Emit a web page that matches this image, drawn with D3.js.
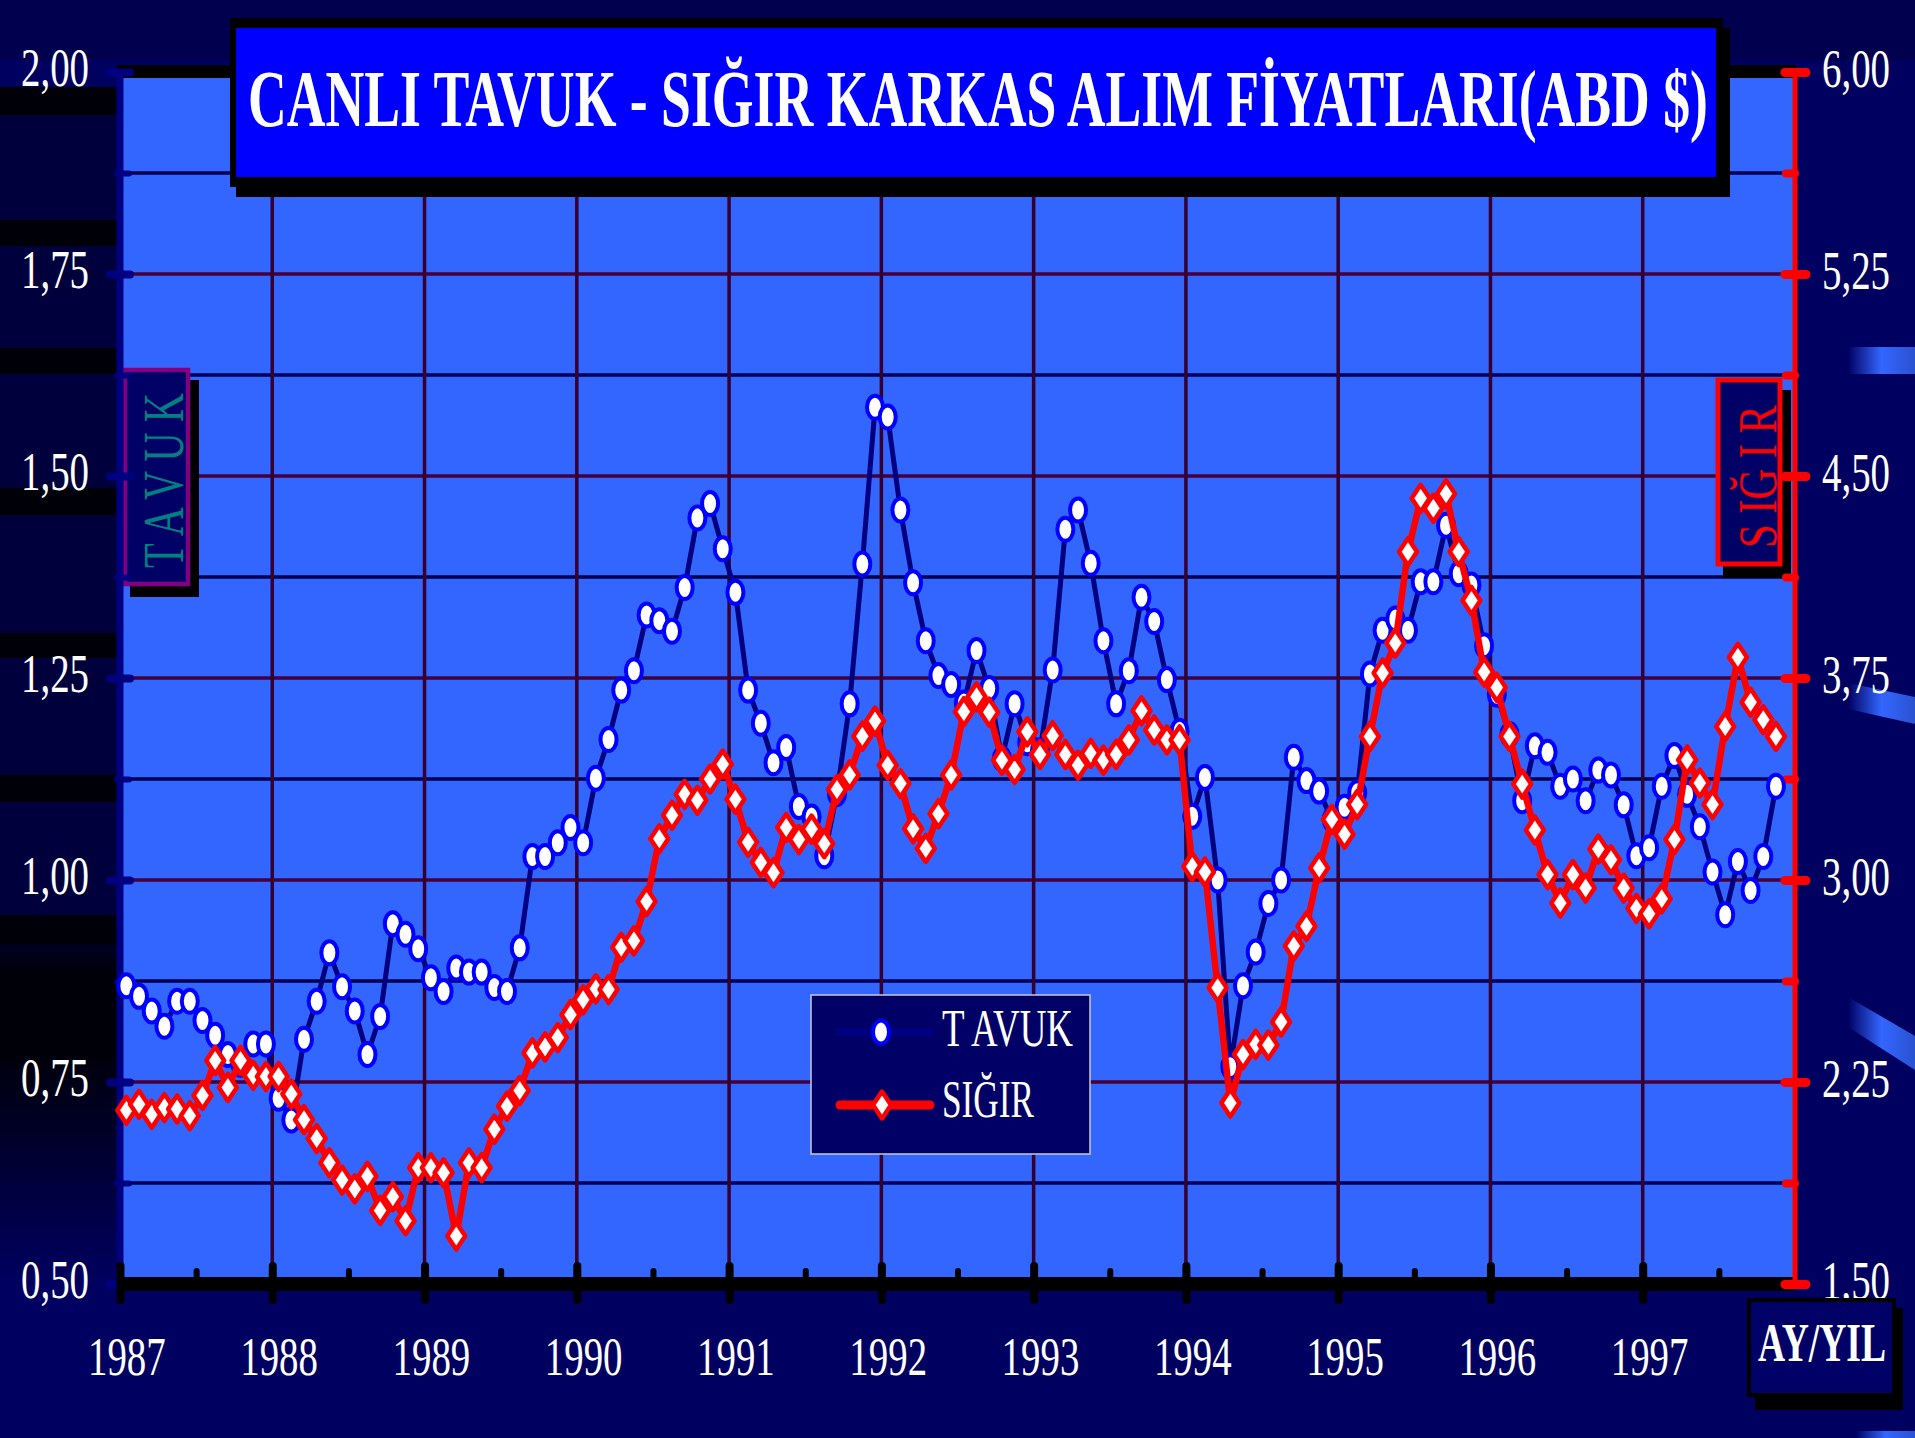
<!DOCTYPE html>
<html><head><meta charset="utf-8">
<script src="https://cdn.jsdelivr.net/npm/d3@7"></script>
<style>html,body{margin:0;padding:0;background:#000060;}svg{display:block;}</style>
</head><body>
<svg id="c" width="1915" height="1438"></svg>
<script>
// ---------- data ----------
const years = ["1987","1988","1989","1990","1991","1992","1993","1994","1995","1996","1997"];
const leftTicks = [0.50,0.75,1.00,1.25,1.50,1.75,2.00];
const rightTicks = [1.50,2.25,3.00,3.75,4.50,5.25,6.00];
const seriesNames = ["T AVUK","SIĞIR"];
const titleText = "CANLI TAVUK - SIĞIR KARKAS ALIM FİYATLARI(ABD $)";
// TAVUK (left axis), monthly Jan 1987 .. Nov 1997
const tavuk = [
0.869,0.856,0.838,0.819,0.850,0.850,0.826,0.808,0.784,0.772,0.797,0.797,
0.730,0.703,0.803,0.850,0.910,0.868,0.838,0.784,0.831,0.946,0.933,0.915,
0.879,0.862,0.891,0.886,0.886,0.867,0.862,0.916,1.029,1.029,1.046,1.065,
1.046,1.126,1.174,1.235,1.259,1.328,1.321,1.308,1.362,1.448,1.466,1.410,
1.356,1.235,1.194,1.145,1.164,1.091,1.078,1.030,1.107,1.218,1.391,1.585,
1.573,1.458,1.368,1.296,1.253,1.242,1.219,1.284,1.237,1.150,1.218,1.170,
1.160,1.260,1.434,1.458,1.392,1.296,1.218,1.259,1.350,1.320,1.248,1.184,
1.079,1.127,1.000,0.769,0.869,0.911,0.971,1.000,1.152,1.123,1.110,1.075,
1.090,1.108,1.255,1.309,1.323,1.309,1.369,1.369,1.439,1.379,1.365,1.290,
1.230,1.180,1.098,1.166,1.158,1.116,1.125,1.098,1.136,1.130,1.093,1.030,
1.040,1.116,1.154,1.106,1.066,1.010,0.957,1.023,0.987,1.029,1.116];
// SIĞIR (right axis)
const sigir = [
2.145,2.167,2.130,2.155,2.150,2.125,2.200,2.330,2.230,2.330,2.275,2.270,
2.270,2.205,2.110,2.040,1.950,1.886,1.853,1.900,1.773,1.824,1.735,1.932,
1.932,1.913,1.678,1.950,1.932,2.075,2.160,2.218,2.358,2.380,2.415,2.500,
2.555,2.596,2.593,2.750,2.774,2.920,3.153,3.240,3.318,3.296,3.375,3.430,
3.300,3.140,3.065,3.027,3.195,3.150,3.189,3.135,3.336,3.390,3.534,3.590,
3.426,3.358,3.190,3.117,3.246,3.390,3.625,3.680,3.623,3.445,3.410,3.550,
3.466,3.536,3.466,3.426,3.470,3.445,3.466,3.520,3.628,3.557,3.520,3.520,
3.050,3.030,2.600,2.172,2.352,2.390,2.387,2.473,2.755,2.828,3.045,3.225,
3.170,3.280,3.533,3.769,3.880,4.219,4.417,4.380,4.434,4.219,4.038,3.772,
3.715,3.533,3.356,3.186,3.020,2.915,3.020,2.970,3.115,3.075,2.970,2.895,
2.875,2.930,3.150,3.446,3.360,3.280,3.570,3.827,3.660,3.595,3.533];

// ---------- setup ----------
const FONT = "'Liberation Serif','Times New Roman',serif";
const SX = 0.72;
const X0=120, X1=1795, Y0=72, Y1=1284;
const svg = d3.select('#c');
const nCat = years.length*12;
const x = d3.scaleLinear().domain([0,nCat]).range([X0,X1]);
const yL = d3.scaleLinear().domain([0.5,2.0]).range([Y1,Y0]);
const yR = d3.scaleLinear().domain([1.5,6.0]).range([Y1,Y0]);
const fmt = d => d.toFixed(2).replace('.',',');
const defs = svg.append('defs');

// ---------- background ----------
svg.append('rect').attr('width',1915).attr('height',1438).attr('fill','#000060');
svg.append('rect').attr('x',0).attr('y',0).attr('width',1915).attr('height',60).attr('fill','#00004e');
const lg = defs.append('linearGradient').attr('id','leftStrip').attr('x1',0).attr('y1',0).attr('x2',0).attr('y2',1);
[[0,'#00003c'],[0.7,'#00003c'],[0.74,'#000008'],[0.80,'#000008'],[1,'#000060']].forEach(s=>lg.append('stop').attr('offset',s[0]).attr('stop-color',s[1]));
svg.append('rect').attr('x',0).attr('y',87).attr('width',117).attr('height',1197).attr('fill','url(#leftStrip)');
[[87,28],[220,26],[348,26],[488,27],[633,25],[775,27],[915,30]].forEach(b=>
  svg.append('rect').attr('x',0).attr('y',b[0]).attr('width',117).attr('height',b[1]).attr('fill','#000008'));
const rg = defs.append('linearGradient').attr('id','rightDeco').attr('x1',0).attr('y1',0).attr('x2',1).attr('y2',0);
[[0,'#000060'],[0.5,'#3366ff'],[1,'#2a52d0']].forEach(s=>rg.append('stop').attr('offset',s[0]).attr('stop-color',s[1]));
[[[1848,347],[1915,347],[1915,374],[1848,374]],
 [[1848,683],[1915,697],[1915,724],[1848,709]],
 [[1848,997],[1915,1036],[1915,1070],[1848,1027]],
 [[1856,1431],[1915,1431],[1915,1438],[1856,1438]]].forEach(p=>
  svg.append('polygon').attr('points',p.map(q=>q.join(',')).join(' ')).attr('fill','url(#rightDeco)'));

// ---------- plot area ----------
svg.append('rect').attr('x',X0).attr('y',Y0).attr('width',X1-X0).attr('height',Y1-Y0).attr('fill','#3366ff');
svg.append('rect').attr('x',117).attr('y',65).attr('width',1680).attr('height',13).attr('fill','#000000');

// gridlines
const gridH = d3.range(0.625,1.876,0.125);
svg.append('g').selectAll('line').data(gridH).join('line')
  .attr('x1',X0).attr('x2',X1).attr('y1',d=>yL(d)).attr('y2',d=>yL(d))
  .attr('stroke',d=>Math.abs((d/0.25)-Math.round(d/0.25))<1e-6?'#44003a':'#000050')
  .attr('stroke-width',3.5);
svg.append('g').selectAll('line').data(d3.range(12,nCat,12)).join('line')
  .attr('x1',d=>x(d)).attr('x2',d=>x(d)).attr('y1',Y0).attr('y2',Y1)
  .attr('stroke','#330033').attr('stroke-width',3.5);

// ---------- title ----------
svg.append('rect').attr('x',236).attr('y',28).attr('width',1494).attr('height',169).attr('fill','#000');
svg.append('rect').attr('x',230).attr('y',18).attr('width',1493).attr('height',169).attr('fill','#000');
svg.append('rect').attr('x',236).attr('y',28).attr('width',1480).attr('height',149).attr('fill','#0000ff');
svg.append('text').attr('x',248).attr('y',126).attr('font-family',FONT).attr('font-weight','bold')
  .attr('font-size',80).attr('fill','#fff').attr('textLength',1460).attr('lengthAdjust','spacingAndGlyphs')
  .text(titleText);

// ---------- side labels ----------
svg.append('rect').attr('x',130).attr('y',380).attr('width',69).attr('height',217).attr('fill','#000');
svg.append('rect').attr('x',125).attr('y',370).attr('width',63).attr('height',214).attr('fill','#000066')
  .attr('stroke','#800080').attr('stroke-width',4.5);
svg.append('text').attr('transform','translate(183,568) rotate(-90)').attr('font-family',FONT)
  .attr('font-size',57).attr('fill','#008080').attr('textLength',175).attr('lengthAdjust','spacingAndGlyphs')
  .text('T A V U K');

svg.append('rect').attr('x',1723).attr('y',390).attr('width',68).attr('height',188).attr('fill','#000');
svg.append('rect').attr('x',1718).attr('y',380).attr('width',62).attr('height',184).attr('fill','#000066')
  .attr('stroke','#ff0000').attr('stroke-width',5);
svg.append('text').attr('transform','translate(1776,548) rotate(-90)').attr('font-family',FONT)
  .attr('font-size',54).attr('fill','#ff0000').attr('textLength',143).attr('lengthAdjust','spacingAndGlyphs')
  .text('S IĞ I R');

// ---------- axes ----------
svg.append('line').attr('x1',X0).attr('x2',X0).attr('y1',Y0).attr('y2',Y1).attr('stroke','#000080').attr('stroke-width',7);
const gLm = svg.append('g').attr('transform',`translate(${X0},0)`)
  .call(d3.axisLeft(yL).tickValues(d3.range(0.625,2.0,0.25)).tickFormat('').tickSize(0));
gLm.select('.domain').remove();
gLm.selectAll('.tick line').attr('x1',-3).attr('x2',9).attr('stroke','#000080').attr('stroke-width',6).attr('stroke-linecap','round');
const gL = svg.append('g').attr('transform',`translate(${X0},0)`)
  .call(d3.axisLeft(yL).tickValues(leftTicks).tickFormat(fmt).tickSize(0).tickPadding(31/SX));
gL.select('.domain').remove();
gL.selectAll('.tick line').attr('x1',-10).attr('x2',10).attr('stroke','#000080').attr('stroke-width',8).attr('stroke-linecap','round');
gL.selectAll('.tick text').attr('transform',`scale(${SX},1)`).attr('dy',null).attr('y',13)
  .attr('font-family',FONT).attr('font-size',54).attr('fill','#fff');

svg.append('line').attr('x1',117).attr('x2',X1).attr('y1',1284).attr('y2',1284).attr('stroke','#000').attr('stroke-width',14);
const gBm = svg.append('g').attr('transform',`translate(0,${Y1})`)
  .call(d3.axisBottom(x).tickValues(d3.range(6,nCat,12)).tickFormat('').tickSize(0));
gBm.select('.domain').remove();
gBm.selectAll('.tick line').attr('y1',-13).attr('y2',-4).attr('stroke','#000').attr('stroke-width',6).attr('stroke-linecap','round');
const gB = svg.append('g').attr('transform',`translate(0,${Y1})`)
  .call(d3.axisBottom(x).tickValues(d3.range(0,nCat,12)).tickFormat('').tickSize(0));
gB.select('.domain').remove();
gB.selectAll('.tick line').attr('y1',-18).attr('y2',16).attr('stroke','#000').attr('stroke-width',8).attr('stroke-linecap','round');
const gBl = svg.append('g').attr('transform',`translate(0,${Y1})`)
  .call(d3.axisBottom(x).tickValues(years.map((d,i)=>i*12+0.5)).tickFormat((d,i)=>years[i]).tickSize(0));
gBl.select('.domain').remove();
gBl.selectAll('.tick text').attr('transform',`scale(${SX},1)`).attr('dy',null).attr('y',1375-Y1)
  .attr('font-family',FONT).attr('font-size',54).attr('fill','#fff');

svg.append('line').attr('x1',X1).attr('x2',X1).attr('y1',Y0-2).attr('y2',Y1).attr('stroke','#ff0000').attr('stroke-width',5);
const gRm = svg.append('g').attr('transform',`translate(${X1},0)`)
  .call(d3.axisRight(yR).tickValues(d3.range(1.875,6.0,0.75)).tickFormat('').tickSize(0));
gRm.select('.domain').remove();
gRm.selectAll('.tick line').attr('x1',-9).attr('x2',0).attr('stroke','#ff0000').attr('stroke-width',8).attr('stroke-linecap','round');
const gR = svg.append('g').attr('transform',`translate(${X1},0)`)
  .call(d3.axisRight(yR).tickValues(rightTicks).tickFormat(fmt).tickSize(0).tickPadding(27/SX));
gR.select('.domain').remove();
gR.selectAll('.tick line').attr('x1',-10).attr('x2',11).attr('stroke','#ff0000').attr('stroke-width',9).attr('stroke-linecap','round');
gR.selectAll('.tick text').attr('transform',`scale(${SX},1)`).attr('dy',null).attr('y',14)
  .attr('font-family',FONT).attr('font-size',54).attr('fill','#fff');

// ---------- series ----------
const px = i => x(i+0.5);
const diamond = 'M0,-13.5 L9,0 L0,13.5 L-9,0 Z';
svg.append('path').datum(tavuk).attr('fill','none').attr('stroke','#000080').attr('stroke-width',5)
  .attr('stroke-linejoin','round').attr('d',d3.line().x((d,i)=>px(i)).y(d=>yL(d)));
svg.append('g').selectAll('ellipse').data(tavuk).join('ellipse')
  .attr('cx',(d,i)=>px(i)).attr('cy',d=>yL(d)).attr('rx',8).attr('ry',11.5)
  .attr('fill','#fff').attr('stroke','#0000ff').attr('stroke-width',4);
svg.append('path').datum(sigir).attr('fill','none').attr('stroke','#ff0000').attr('stroke-width',6.5)
  .attr('stroke-linejoin','round').attr('d',d3.line().x((d,i)=>px(i)).y(d=>yR(d)));
svg.append('g').selectAll('path').data(sigir).join('path')
  .attr('transform',(d,i)=>`translate(${px(i)},${yR(d)})`).attr('d',diamond)
  .attr('fill','#fff').attr('stroke','#ff0000').attr('stroke-width',4.5).attr('stroke-linejoin','round');

// ---------- legend ----------
const leg = svg.append('g');
leg.append('rect').attr('x',811).attr('y',995).attr('width',279).attr('height',159).attr('fill','#000066')
  .attr('stroke','#c8c8d8').attr('stroke-width',1.5);
leg.append('line').attr('x1',840).attr('x2',930).attr('y1',1032).attr('y2',1032).attr('stroke','#000080').attr('stroke-width',8).attr('stroke-linecap','round');
leg.append('ellipse').attr('cx',881).attr('cy',1032).attr('rx',8).attr('ry',11.5).attr('fill','#fff').attr('stroke','#0000ff').attr('stroke-width',4);
leg.append('line').attr('x1',840).attr('x2',930).attr('y1',1105).attr('y2',1105).attr('stroke','#ff0000').attr('stroke-width',9).attr('stroke-linecap','round');
leg.append('path').attr('transform','translate(882,1105)').attr('d',diamond).attr('fill','#fff').attr('stroke','#ff0000').attr('stroke-width',4.5).attr('stroke-linejoin','round');
leg.append('text').attr('x',942).attr('y',1046).attr('font-family',FONT).attr('font-size',52).attr('fill','#fff')
  .attr('textLength',131).attr('lengthAdjust','spacingAndGlyphs').text(seriesNames[0]);
leg.append('text').attr('x',942).attr('y',1117).attr('font-family',FONT).attr('font-size',52).attr('fill','#fff')
  .attr('textLength',92).attr('lengthAdjust','spacingAndGlyphs').text(seriesNames[1]);

// ---------- AY/YIL ----------
svg.append('rect').attr('x',1755).attr('y',1308).attr('width',148).attr('height',102).attr('fill','#000');
svg.append('rect').attr('x',1749).attr('y',1300).attr('width',145).attr('height',95).attr('fill','#000066')
  .attr('stroke','#000').attr('stroke-width',4);
svg.append('text').attr('x',1758).attr('y',1361).attr('font-family',FONT).attr('font-weight','bold')
  .attr('font-size',54).attr('fill','#fff').attr('textLength',128).attr('lengthAdjust','spacingAndGlyphs').text('AY/YIL');
</script>
</body></html>
